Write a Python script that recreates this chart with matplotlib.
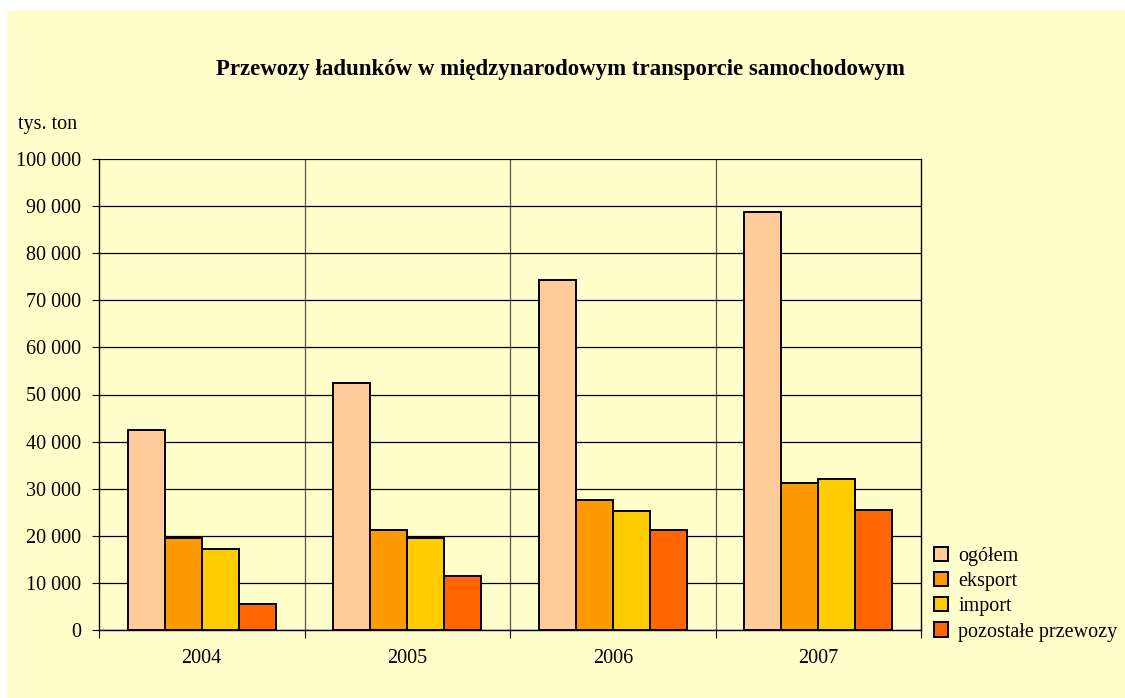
import matplotlib.pyplot as plt
import numpy as np
from matplotlib.patches import Rectangle

years = ["2004", "2005", "2006", "2007"]
series_names = ["ogółem", "eksport", "import", "pozostałe przewozy"]
ogolem = [42400, 52500, 74300, 88800]
eksport = [19600, 21200, 27600, 31200]
import_ = [17300, 19500, 25300, 32100]
pozostale = [5500, 11500, 21200, 25500]
colors = ["#FFCC99", "#FF9900", "#FFCC00", "#FF6600"]

bg = "#FFFFCC"
plt.rcParams["font.family"] = ["Liberation Serif", "DejaVu Serif"]

fig = plt.figure(figsize=(11.25, 6.98), dpi=100)
fig.patch.set_facecolor("white")
fig.patches.append(
    Rectangle((7 / 1125, 0), 1, 1 - 10 / 698, transform=fig.transFigure,
              facecolor=bg, edgecolor="none", zorder=-10)
)

ax = fig.add_axes([99 / 1125, 1 - 630 / 698, (921 - 99) / 1125, (630 - 159) / 698])
ax.set_facecolor(bg)

x = np.arange(len(years))
width = 0.18
data = [ogolem, eksport, import_, pozostale]
for i, (vals, name, c) in enumerate(zip(data, series_names, colors)):
    ax.bar(x + (i - 1.5) * width, vals, width, color=c, edgecolor="black",
           linewidth=1.4, label=name, zorder=3)

ax.set_xlim(-0.5, 3.5)
ax.set_ylim(0, 100000)
ax.set_yticks(np.arange(0, 100001, 10000))
ax.set_yticklabels([f"{v:,}".replace(",", " ") for v in range(0, 100001, 10000)])
ax.yaxis.grid(True, color="black", linewidth=0.9, zorder=1)

ax.set_xticks(np.arange(-0.5, 3.6, 1))
ax.set_xticklabels([])
ax.set_xticks(x, minor=True)
ax.set_xticklabels(years, minor=True)
ax.tick_params(axis="x", which="minor", length=0, pad=14)
ax.tick_params(axis="x", which="major", length=6, direction="out")
for b in [0.5, 1.5, 2.5]:
    ax.axvline(b, color="#555555", linewidth=0.9, zorder=1)

ax.tick_params(axis="y", length=5, direction="out", pad=8)
ax.tick_params(which="both", labelsize=14.5)
ax.spines["top"].set_visible(False)
for s in ["left", "right", "bottom"]:
    ax.spines[s].set_linewidth(1.0)
    ax.spines[s].set_color("black")

fig.text(560 / 1125, 1 - 70 / 698, "Przewozy ładunków w międzynarodowym transporcie samochodowym",
         ha="center", va="center", fontsize=16.5, fontweight="bold")
fig.text(18 / 1125, 1 - 125 / 698, "tys. ton", ha="left", va="center", fontsize=14.5)

leg = fig.legend(loc="upper left", bbox_to_anchor=(926 / 1125, 1 - 539 / 698),
                 frameon=False, fontsize=14.5, handlelength=0.7, handleheight=0.7,
                 handletextpad=0.5, labelspacing=0.3, borderaxespad=0)

fig.savefig("out.png", dpi=100, facecolor=fig.get_facecolor())
